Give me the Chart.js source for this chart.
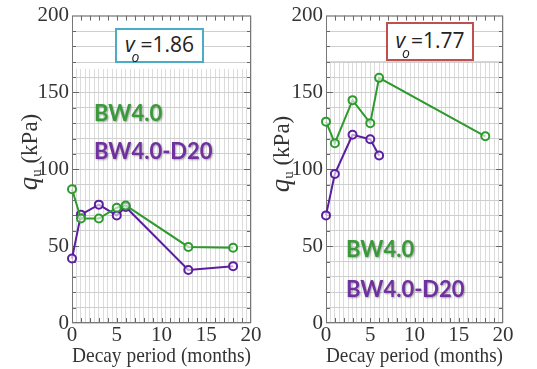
<!DOCTYPE html>
<html>
<head>
<meta charset="utf-8">
<script src="https://cdn.jsdelivr.net/npm/chart.js@4.4.0/dist/chart.umd.min.js"></script>
<style>
    body { margin: 0; background: #fff; }
    #wrap { position: relative; width: 537px; height: 369px; overflow: hidden; }
    canvas { position: absolute; top: 0; }
    .ytitle {
        position: absolute; font-family: 'Liberation Serif', serif; font-size: 23px; color: #333;
        transform: translate(-50%, -50%) rotate(-90deg); white-space: nowrap;
    }
    .ytitle i { font-size: 27px; }
    .ytitle sub { font-size: 15px; vertical-align: -4px; }
    .vbox {
        position: absolute; background: #fff; box-sizing: border-box; border: 2px solid;
        font-family: 'Open Sans', sans-serif; font-size: 21px; color: #222;
        display: flex; align-items: center; justify-content: center;
    }
    .vbox sub { font-size: 14px; position: relative; top: 5px; margin-left: -3px; margin-right: 1px; }
    .leg {
        position: absolute; font-family: Lato, sans-serif; font-weight: 700; font-size: 22px;
        text-shadow: 1px 1px 2px rgba(0,0,0,0.35); white-space: nowrap;
        transform: translateY(-50%);
    }
</style>
</head>
<body>
<div id="wrap">
    <canvas id="leftChart" width="268" height="369" style="left:0"></canvas>
    <canvas id="rightChart" width="269" height="369" style="left:268px"></canvas>

    <div class="ytitle" style="left:29px; top:152px"><i>q</i><sub>u</sub> (kPa)</div>
    <div class="ytitle" style="left:281px; top:154px"><i>q</i><sub>u</sub> (kPa)</div>

    <div class="vbox" style="left:115px; top:28px; width:89px; height:35px; border-color:#4bacc6"><span><i>v</i><sub><i>o</i></sub>=1.86</span></div>
    <div class="vbox" style="left:386px; top:22px; width:88px; height:39px; border-color:#c0504d"><span><i>v</i><sub><i>o</i></sub>=1.77</span></div>

    <div class="leg" style="left:94px; top:112px; color:#3a9a3a">BW4.0</div>
    <div class="leg" style="left:94px; top:150px; color:#7030a0">BW4.0-D20</div>
    <div class="leg" style="left:346px; top:248px; color:#3a9a3a">BW4.0</div>
    <div class="leg" style="left:346px; top:288px; color:#7030a0">BW4.0-D20</div>
</div>

<script>
// x positions (months) and q_u values (kPa)
const leftMonths = [0, 1, 3, 5, 6, 13, 18];
const leftBW40 = [87, 68, 68, 75, 76.5, 49.5, 49];
const leftBW40D20 = [42, 70.5, 77, 70, 75.5, 34.5, 37];

const rightMonthsBW40 = [0, 1, 3, 5, 6, 18];
const rightBW40 = [131, 117, 145, 130, 159.5, 121.5];
const rightMonthsD20 = [0, 1, 3, 5, 6];
const rightBW40D20 = [70, 97, 122.5, 119.5, 109];

const xTicks = [0, 5, 10, 15, 20];
const yTicks = [0, 50, 100, 150, 200];

const GREEN = '#2e9a2e';
const PURPLE = '#5a1e9e';
const SERIF = "'Liberation Serif', 'Times New Roman', serif";

function toPoints(xs, ys) {
    return xs.map((x, i) => ({ x: x, y: ys[i] }));
}

function series(xs, ys, color) {
    return {
        data: toPoints(xs, ys),
        showLine: true,
        clip: false,
        borderColor: color,
        backgroundColor: 'rgba(255,255,255,0.6)',
        borderWidth: 2,
        pointRadius: 4,
        pointBorderWidth: 2,
        pointBorderColor: color,
        pointBackgroundColor: 'rgba(255,255,255,0.6)'
    };
}

// white band at the top of the grid, frame and inward tick marks
const frame = {
    id: 'frame',
    beforeDatasetsDraw(chart, args, opts) {
        const { ctx, chartArea: a, scales } = chart;
        const x = scales.x, y = scales.y;
        ctx.save();
        const cut = y.getPixelForValue(opts.cut);
        ctx.fillStyle = '#fff';
        ctx.fillRect(a.left + 1, a.top + 1, a.right - a.left - 2, cut - a.top);
        ctx.strokeStyle = '#cfcfcf';
        ctx.lineWidth = 1;
        for (let v = 170; v < 200; v += 10) {
            const py = Math.round(y.getPixelForValue(v)) + 0.5;
            ctx.beginPath(); ctx.moveTo(a.left, py); ctx.lineTo(a.right, py); ctx.stroke();
        }
        ctx.strokeStyle = '#666';
        for (let m = 1; m < 20; m++) {
            const px = Math.round(x.getPixelForValue(m)) + 0.5;
            ctx.beginPath(); ctx.moveTo(px, a.top); ctx.lineTo(px, a.top + 5); ctx.stroke();
            ctx.beginPath(); ctx.moveTo(px, a.bottom); ctx.lineTo(px, a.bottom - 5); ctx.stroke();
        }
        for (let v = 10; v < 200; v += 10) {
            const py = Math.round(y.getPixelForValue(v)) + 0.5;
            const len = v % 50 === 0 ? 7 : 4;
            ctx.beginPath(); ctx.moveTo(a.left, py); ctx.lineTo(a.left + len, py); ctx.stroke();
            ctx.beginPath(); ctx.moveTo(a.right, py); ctx.lineTo(a.right - len, py); ctx.stroke();
        }
        ctx.strokeStyle = '#777';
        ctx.strokeRect(a.left + 0.5, a.top + 0.5, a.right - a.left - 1, a.bottom - a.top - 1);
        ctx.restore();
    }
};

function makeChart(id, datasets, yWidth, padRight, cut) {
    return new Chart(document.getElementById(id), {
        type: 'scatter',
        data: { datasets: datasets },
        options: {
            responsive: false,
            animation: false,
            layout: { padding: { top: 15, right: padRight, left: 0, bottom: 0 } },
            plugins: {
                legend: { display: false },
                tooltip: { enabled: false },
                frame: { cut: cut }
            },
            scales: {
                x: {
                    type: 'linear', min: 0, max: 20,
                    afterFit: (s) => { s.height = 46; },
                    afterBuildTicks: (s) => {
                        const t = [];
                        for (let m = 0; m <= 20; m += 0.5) t.push({ value: m });
                        s.ticks = t;
                    },
                    ticks: {
                        autoSkip: false, maxRotation: 0, padding: 0,
                        color: '#333',
                        font: { family: SERIF, size: 21 },
                        callback: (v) => xTicks.includes(v) ? String(v) : ''
                    },
                    grid: { color: '#dcdcdc', drawTicks: false },
                    border: { display: false },
                    title: {
                        display: true, text: 'Decay period (months)',
                        color: '#333', padding: 0,
                        font: { family: SERIF, size: 22 }
                    }
                },
                y: {
                    type: 'linear', min: 0, max: 200,
                    afterFit: (s) => { s.width = yWidth; },
                    afterBuildTicks: (s) => {
                        const t = [];
                        for (let v = 0; v <= 200; v += 10) t.push({ value: v });
                        s.ticks = t;
                    },
                    ticks: {
                        autoSkip: false, padding: 3,
                        color: '#333',
                        font: { family: SERIF, size: 21 },
                        callback: (v) => yTicks.includes(v) ? String(v) : ''
                    },
                    grid: { color: '#cfcfcf', drawTicks: false },
                    border: { display: false }
                }
            }
        },
        plugins: [frame]
    });
}

makeChart('leftChart', [
    series(leftMonths, leftBW40, GREEN),
    series(leftMonths, leftBW40D20, PURPLE)
], 72, 17, 166);

makeChart('rightChart', [
    series(rightMonthsBW40, rightBW40, GREEN),
    series(rightMonthsD20, rightBW40D20, PURPLE)
], 58, 34, 171);
</script>
</body>
</html>
